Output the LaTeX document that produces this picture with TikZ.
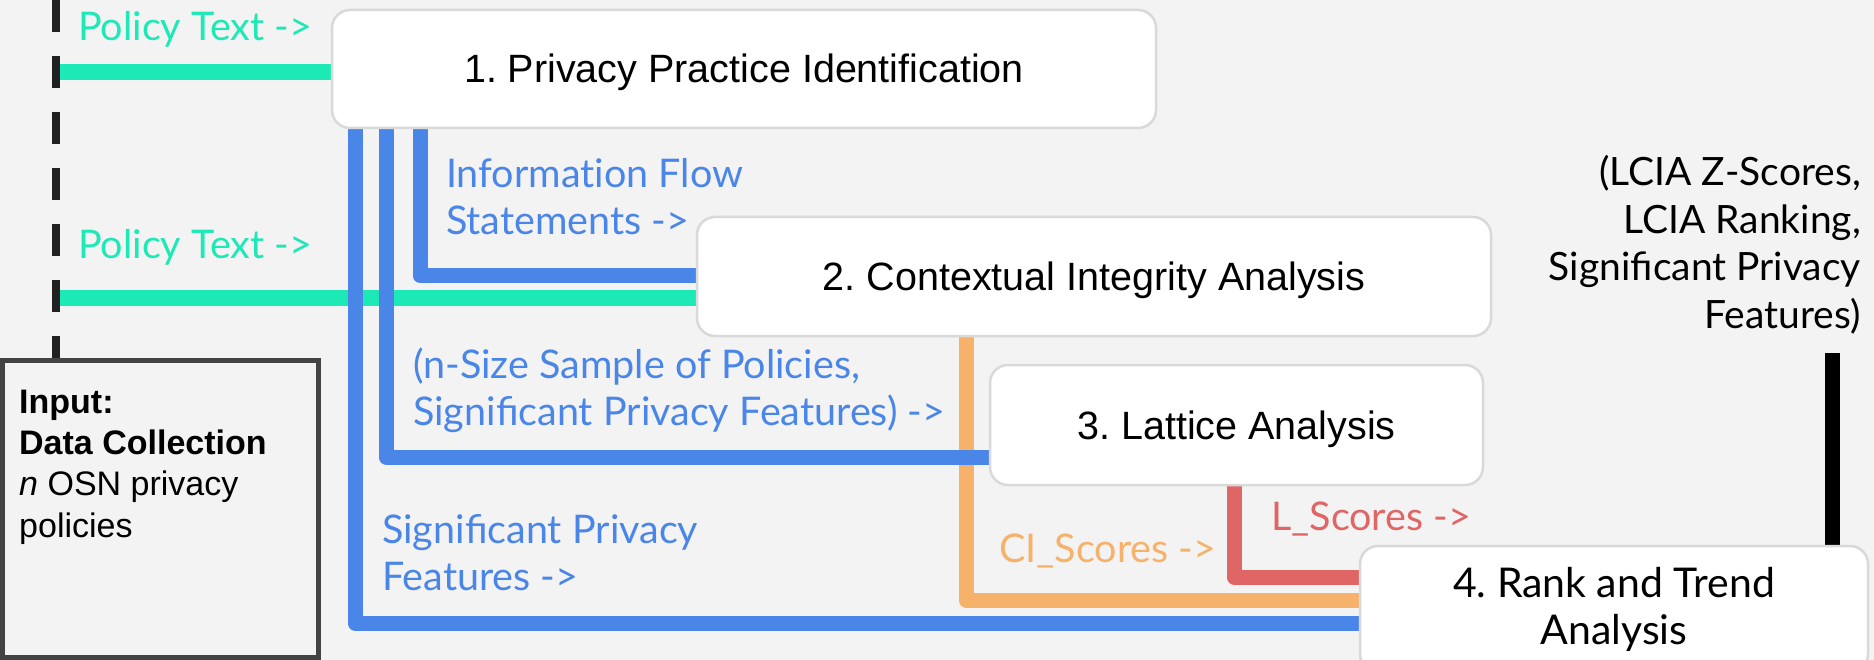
\documentclass[tikz,border=0pt]{standalone}
\usepackage{fontspec}
\setmainfont{Liberation Sans}
\newfontfamily\lato{Lato}
\usetikzlibrary{backgrounds}

\definecolor{canvas}{HTML}{F3F3F3}
\definecolor{boxline}{HTML}{D9D9D9}
\definecolor{inputline}{HTML}{434343}
\definecolor{flowgreen}{HTML}{1DE9B6}
\definecolor{flowblue}{HTML}{4A86E8}
\definecolor{floworange}{HTML}{F6B26B}
\definecolor{flowred}{HTML}{E06666}
\definecolor{inkblack}{HTML}{212121}

\tikzset{
  stage/.style={draw=boxline, line width=2.5pt, fill=white, rounded corners=18pt,
    inner sep=0pt, align=center, text height=28pt, text depth=0pt,
    font=\frenchspacing\fontsize{39.5}{46}\selectfont},
  lastage/.style={draw=boxline, line width=2.5pt, fill=white, rounded corners=18pt,
    inner sep=0pt, align=center, font=\frenchspacing\lato\fontsize{41}{47}\selectfont},
  flowlbl/.style={anchor=base west, inner sep=0pt, align=left,
    font=\lato\fontsize{39.5}{47}\selectfont},
  flow/.style={line width=15pt, line join=round},
}

\begin{document}
\begin{tikzpicture}[x=1pt, y=-1pt]
\useasboundingbox (0,0) rectangle (1874,660);

% processing stages
\node[stage, minimum width=824pt, minimum height=118pt] (s1) at (744,69)
  {1. Privacy Practice Identification};
\node[stage, minimum width=794pt, minimum height=119pt] (s2) at (1094,276.5)
  {2. Contextual Integrity Analysis};
\node[stage, minimum width=493pt, minimum height=120pt] (s3) at (1236.5,425)
  {3. Lattice Analysis};
\node[lastage, minimum width=508pt, minimum height=126pt] (s4) at (1614,609)
  {4. Rank and Trend\\Analysis};

% input box
\node[draw=inputline, line width=5pt, minimum width=316pt, minimum height=297pt,
  inner sep=0pt] (input) at (160,508.5) {};
\node[anchor=base west, align=left, inner sep=0pt, font=\fontsize{34}{41.3}\selectfont]
  (inputtxt) at (19,537)
  {\textbf{Input:}\\\textbf{Data Collection}\\\textit{n} OSN privacy\\policies};

% free ends
\coordinate (src1) at (60,72);
\coordinate (src2) at (60,298);
\coordinate (dashtop) at (56,0);
\coordinate (outtop) at (1832,353);

\begin{pgfonlayer}{background}
  \fill[canvas] (0,0) rectangle (1874,660);
  \draw[flow, flowgreen, line width=16pt] (src1) -- (s1.west |- src1);
  \draw[flow, flowgreen, line width=16pt] (src2) -- (s2.west |- src2);
  \draw[flow, floworange] (s2.south -| 966,0) |- (s4.west |- 0,600);
  \draw[flow, flowred] (s3.south -| 1234,0) |- (s4.west |- 0,577);
  \draw[flow, flowblue] (s1.south -| 420,0) |- (s2.west |- 0,276);
  \draw[flow, flowblue] (s1.south -| 386,0) |- (s3.west |- 0,457);
  \draw[flow, flowblue] (s1.south -| 355,0) |- (s4.west |- 0,623);
  \draw[line width=15pt, black] (outtop) -- (s4.north -| outtop);
\end{pgfonlayer}

\draw[inkblack, line width=8pt, dash pattern=on 32pt off 24pt] (dashtop) -- (input.north -| dashtop);

% connector labels (multi-line labels are placed by their last baseline;
% the zero kern keeps Lato's "ti" ligature out of "Information")
\node[flowlbl, text=flowgreen] (lp1) at (78,41) {Policy Text ->};
\node[flowlbl, text=flowgreen] (lp2) at (78,259) {Policy Text ->};
\node[flowlbl, text=flowblue] (lif) at (446,235) {Informat\kern0pt ion Flow\\Statements ->};
\node[flowlbl, text=flowblue] (lns) at (413,425) {(n-Size Sample of Policies,\\Significant Privacy Features) ->};
\node[flowlbl, text=flowblue] (lsp) at (382,590) {Significant Privacy\\Features ->};
\node[flowlbl, text=floworange] (lci) at (999,562) {CI\_Scores ->};
\node[flowlbl, text=flowred] (lls) at (1271,530) {L\_Scores ->};
\node[anchor=base east, align=right, inner sep=0pt, font=\lato\fontsize{39}{48}\selectfont]
  (lout) at (1861,329) {(LCIA Z-Scores,\\LCIA Ranking,\\Significant Privacy\\Features)};
\end{tikzpicture}
\end{document}
